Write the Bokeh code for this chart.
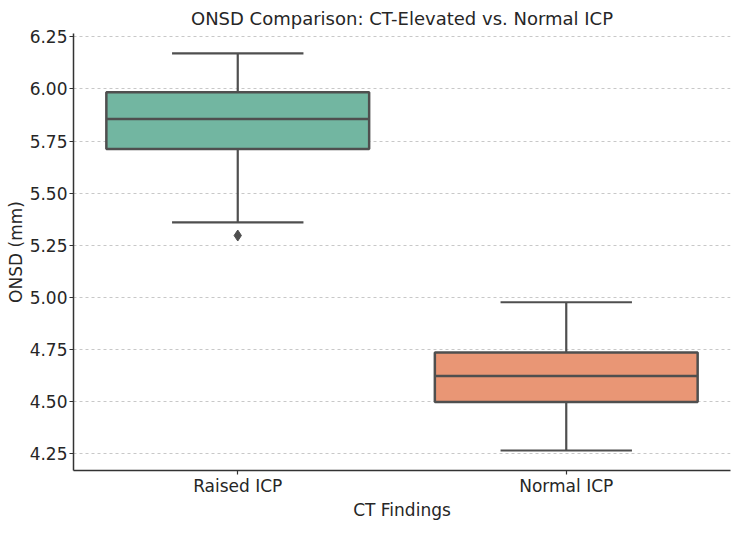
from bokeh.plotting import figure
from bokeh.models import Range1d, FixedTicker, PrintfTickFormatter, ColumnDataSource
from bokeh.embed import file_html
from bokeh.resources import INLINE

# Box-plot summary statistics of optic nerve sheath diameter (mm)
categories = ["Raised ICP", "Normal ICP"]
q1 = [5.712, 4.499]
median = [5.856, 4.623]
q3 = [5.984, 4.736]
whisker_low = [5.360, 4.266]
whisker_high = [6.171, 4.977]
outlier_group = ["Raised ICP"]
outlier_value = [5.297]
box_colors = ["#72b6a1", "#e99675"]
y_ticks = [4.25, 4.50, 4.75, 5.00, 5.25, 5.50, 5.75, 6.00, 6.25]

FONT = "DejaVu Sans"
TEXT = "#262626"
EDGE = "#4f4f4f"

pos = [categories.index(c) + 0.5 for c in categories]
box_w = 0.8
cap_w = 0.4

src = ColumnDataSource(dict(
    x=pos, q1=q1, q3=q3, med=median, lo=whisker_low, hi=whisker_high,
    left=[x - box_w / 2 for x in pos], right=[x + box_w / 2 for x in pos],
    cl=[x - cap_w / 2 for x in pos], cr=[x + cap_w / 2 for x in pos],
    color=box_colors,
))

p = figure(width=750, height=536, output_backend="svg", toolbar_location=None,
           x_range=Range1d(0, len(categories)), y_range=Range1d(4.17, 6.266),
           min_border_left=73, min_border_right=20, min_border_top=33,
           min_border_bottom=66, background_fill_color="white",
           border_fill_color="white", outline_line_color=None)

p.title.text = "ONSD Comparison: CT-Elevated vs. Normal ICP"
p.title.align = "center"
p.title.text_font = FONT
p.title.text_font_size = "18px"
p.title.text_font_style = "normal"
p.title.text_color = TEXT
p.title.offset = 0

# whiskers and caps
p.segment(x0="x", y0="q3", x1="x", y1="hi", source=src, line_color=EDGE, line_width=2.2)
p.segment(x0="x", y0="lo", x1="x", y1="q1", source=src, line_color=EDGE, line_width=2.2)
p.segment(x0="cl", y0="hi", x1="cr", y1="hi", source=src, line_color=EDGE, line_width=2.2)
p.segment(x0="cl", y0="lo", x1="cr", y1="lo", source=src, line_color=EDGE, line_width=2.2)

# boxes and medians
p.quad(left="left", right="right", bottom="q1", top="q3", source=src,
       fill_color="color", line_color=EDGE, line_width=2.5)
p.segment(x0="left", y0="med", x1="right", y1="med", source=src,
          line_color=EDGE, line_width=2.5)

# outliers
p.scatter([pos[categories.index(g)] for g in outlier_group], outlier_value,
          marker="diamond", size=11, fill_color=EDGE, line_color=EDGE)

# axes
p.xaxis.ticker = FixedTicker(ticks=pos)
p.xaxis.major_label_overrides = {x: c for x, c in zip(pos, categories)}
p.yaxis.ticker = FixedTicker(ticks=y_ticks)
p.yaxis.formatter = PrintfTickFormatter(format="%.2f")
p.xaxis.axis_label = "CT Findings"
p.yaxis.axis_label = "ONSD (mm)"

for ax in (p.xaxis, p.yaxis):
    ax.axis_label_text_font = FONT
    ax.axis_label_text_font_size = "17px"
    ax.axis_label_text_font_style = "normal"
    ax.axis_label_text_color = TEXT
    ax.major_label_text_font = FONT
    ax.major_label_text_font_size = "17px"
    ax.major_label_text_color = TEXT
    ax.axis_line_color = "#333333"
    ax.axis_line_width = 1.5
    ax.major_tick_line_color = "#333333"
    ax.major_tick_line_width = 1.2
    ax.major_tick_out = 4
    ax.major_tick_in = 0
    ax.minor_tick_line_color = None

p.yaxis.major_label_standoff = 2
p.yaxis.axis_label_standoff = 1
p.xaxis.major_label_standoff = 1
p.xaxis.axis_label_standoff = 1

p.xgrid.grid_line_color = None
p.ygrid.grid_line_color = "#c8c8c8"
p.ygrid.grid_line_dash = "3 3"
p.ygrid.grid_line_width = 1

open("out.html", "w").write(file_html(p, INLINE))
